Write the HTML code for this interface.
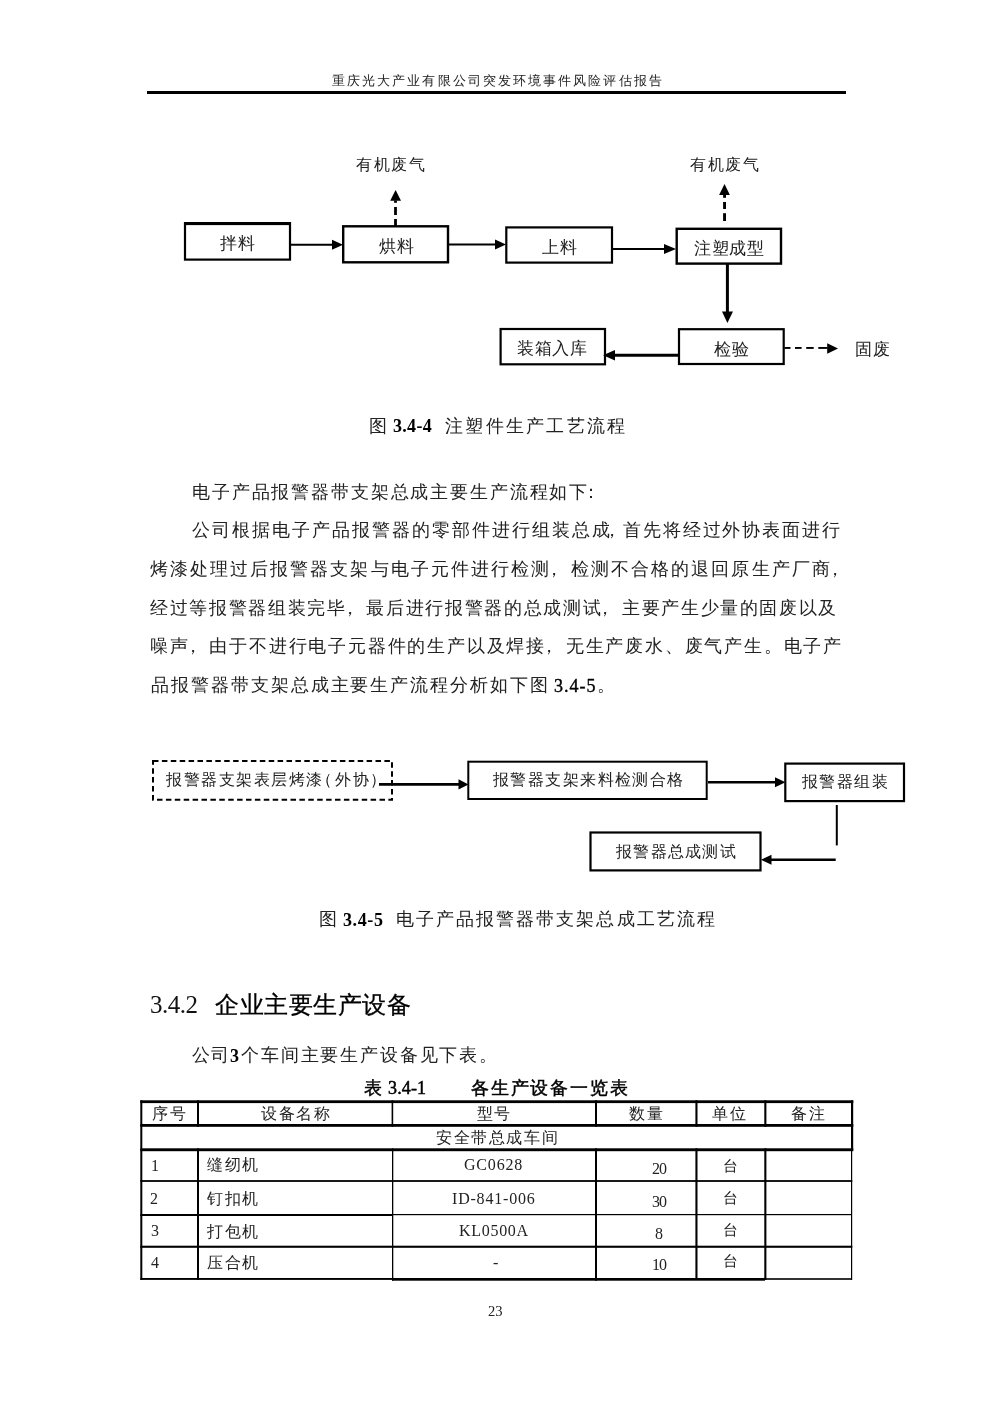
<!DOCTYPE html>
<html><head><meta charset="utf-8">
<style>
html,body{margin:0;padding:0;background:#fff;}
body{width:992px;height:1403px;position:relative;overflow:hidden;font-family:"Liberation Serif",serif;color:#222;}
.t{position:absolute;white-space:nowrap;line-height:1;will-change:transform;}
.b{font-weight:bold;color:#000;}
.pc{position:relative;left:-6px;}
svg{position:absolute;left:0;top:0;}
</style></head><body>
<svg width="992" height="1403" viewBox="0 0 992 1403">
<!-- header rule -->
<rect x="147" y="91" width="699" height="3" fill="#000"/>
<!-- flowchart 1 boxes -->
<g fill="none" stroke="#000">
<rect x="185" y="223.2" width="105" height="36.4" stroke-width="2.2"/>
<rect x="184" y="222.1" width="107" height="3" fill="#000" stroke="none"/>
<rect x="343.2" y="226.3" width="104.8" height="36" stroke-width="2.4"/>
<rect x="506.3" y="227.4" width="105.7" height="35.2" stroke-width="2.2"/>
<rect x="676.7" y="228.8" width="104.3" height="34.8" stroke-width="2.4"/>
<rect x="500.6" y="329" width="104.4" height="35.3" stroke-width="2.2"/>
<rect x="679" y="329.2" width="104.7" height="34.8" stroke-width="2.2"/>
</g>
<g stroke="#000" fill="none">
<line x1="290" y1="244.8" x2="334" y2="244.8" stroke-width="2"/>
<line x1="449" y1="244.6" x2="497" y2="244.6" stroke-width="2"/>
<line x1="613" y1="249" x2="666" y2="249" stroke-width="2"/>
<line x1="727.4" y1="264" x2="727.4" y2="313" stroke-width="3"/>
<line x1="678" y1="355.2" x2="613" y2="355.2" stroke-width="3"/>
</g>
<g fill="#000">
<polygon points="332,239.8 343,244.8 332,249.8"/>
<polygon points="495,239.6 506,244.6 495,249.6"/>
<polygon points="664,244 676,249 664,254"/>
<polygon points="722,311.5 733,311.5 727.4,323"/>
<polygon points="615,350 603,355.2 615,360.5"/>
<polygon points="390.2,200.7 401,200.7 395.6,190"/>
<rect x="394.1" y="200.5" width="2.8" height="2.3"/><rect x="394.1" y="207" width="2.8" height="8"/><rect x="394.1" y="219" width="2.8" height="7"/>
<polygon points="719.1,194.9 729.9,194.9 724.5,183.9"/>
<rect x="723.1" y="194.5" width="2.9" height="3.3"/><rect x="723.1" y="202" width="2.9" height="7"/><rect x="723.1" y="213.2" width="2.9" height="7.8"/>
<polygon points="827.2,343.2 838,348.4 827.2,353.8"/>
<rect x="784.5" y="347" width="6" height="1.9"/><rect x="795" y="347" width="6.6" height="1.9"/><rect x="806.2" y="347" width="7.5" height="1.9"/><rect x="818.3" y="347" width="7.6" height="1.9"/><rect x="825.5" y="347" width="2" height="1.9"/>
</g>
<!-- flowchart 2 -->
<rect x="153" y="761" width="239" height="38.8" fill="none" stroke="#000" stroke-width="2" stroke-dasharray="5.5,3.4"/>
<g fill="none" stroke="#000">
<rect x="468.3" y="761.7" width="238.4" height="37.3" stroke-width="2"/>
<rect x="785.3" y="763.6" width="118.7" height="37.5" stroke-width="2.2"/>
<rect x="590.5" y="832.5" width="170" height="37.9" stroke-width="2.2"/>
<line x1="379" y1="784.4" x2="460" y2="784.4" stroke-width="2.6"/>
<line x1="708" y1="782.2" x2="776" y2="782.2" stroke-width="2.4"/>
<line x1="836.8" y1="805" x2="836.8" y2="845.4" stroke-width="2"/>
<line x1="835.7" y1="859.8" x2="770" y2="859.8" stroke-width="2.4"/>
</g>
<g fill="#000">
<polygon points="458.5,779.2 468.5,784.4 458.5,789.6"/>
<polygon points="775,777.2 785.5,782.2 775,787.2"/>
<polygon points="771.5,854.8 761,859.8 771.5,864.8"/>
</g>
<!-- table -->
<g fill="#000">
<rect x="140.3" y="1100.3" width="713" height="2.8"/>
<rect x="140.3" y="1124" width="713" height="2.8"/>
<rect x="140.3" y="1148.3" width="713" height="2.9"/>
<rect x="140.3" y="1180.1" width="712" height="1.8"/>
<rect x="140.3" y="1214" width="252" height="2"/>
<rect x="392" y="1214" width="460" height="1.2"/>
<rect x="140.3" y="1245.7" width="712" height="2.1"/>
<rect x="140.3" y="1278" width="252" height="1.9"/>
<rect x="392" y="1278" width="373" height="2.7"/>
<rect x="765" y="1278.2" width="87" height="1.6"/>
<rect x="140.3" y="1100.3" width="2" height="179.6"/>
<rect x="851" y="1100.3" width="2.2" height="50.5"/>
<rect x="851" y="1150" width="1.2" height="130"/>
<rect x="197" y="1100.3" width="2" height="26.5"/>
<rect x="197" y="1148.3" width="2" height="131.6"/>
<rect x="391.6" y="1100.3" width="1.6" height="26.5"/>
<rect x="392" y="1148.3" width="1.3" height="132.4"/>
<rect x="595" y="1100.3" width="2" height="26.5"/>
<rect x="595" y="1148.3" width="2" height="132.4"/>
<rect x="695.4" y="1100.3" width="2.1" height="26.5"/>
<rect x="695.4" y="1148.3" width="2.1" height="131.6"/>
<rect x="764.3" y="1100.3" width="2.1" height="26.5"/>
<rect x="764.3" y="1148.3" width="2.1" height="131.6"/>
</g>
</svg>

<!-- header -->
<div class="t" style="left:332px;top:74px;font-size:13px;letter-spacing:2.08px;">重庆光大产业有限公司突发环境事件风险评估报告</div>

<!-- flowchart 1 text -->
<div class="t" style="left:355.5px;top:157px;font-size:16px;letter-spacing:1.7px;">有机废气</div>
<div class="t" style="left:690px;top:157px;font-size:16px;letter-spacing:1.7px;">有机废气</div>
<div class="t" style="left:220px;top:234.5px;font-size:17px;letter-spacing:0.7px;">拌料</div>
<div class="t" style="left:378.5px;top:237.5px;font-size:17px;letter-spacing:0.7px;">烘料</div>
<div class="t" style="left:542px;top:238.7px;font-size:17px;letter-spacing:0.7px;">上料</div>
<div class="t" style="left:693.5px;top:240.3px;font-size:17px;letter-spacing:0.5px;">注塑成型</div>
<div class="t" style="left:517px;top:340.3px;font-size:17px;letter-spacing:0.5px;">装箱入库</div>
<div class="t" style="left:714px;top:340.8px;font-size:17px;letter-spacing:0.7px;">检验</div>
<div class="t" style="left:855px;top:340.8px;font-size:17px;letter-spacing:0.7px;">固废</div>

<!-- caption 1 -->
<div class="t" style="left:369.2px;top:416.5px;font-size:18px;">图</div>
<div class="t b" style="left:393.3px;top:417.1px;font-size:18px;letter-spacing:0.3px;">3.4-4</div>
<div class="t" style="left:444.6px;top:416.8px;font-size:18px;letter-spacing:2.3px;">注塑件生产工艺流程</div>

<!-- paragraph -->
<div class="t" style="left:192.1px;top:482.5px;font-size:18px;letter-spacing:1.86px;">电子产品报警器带支架总成主要生产流程如下<span class="pc" style="left:-7px">：</span></div>
<div class="t" style="left:192.1px;top:521.4px;font-size:18px;letter-spacing:2px;">公司根据电子产品报警器的零部件进行组装总成</div>
<div class="t" style="left:602.6px;top:521.4px;font-size:18px;">，</div>
<div class="t" style="left:623px;top:521.4px;font-size:18px;letter-spacing:1.9px;">首先将经过外协表面进行</div>
<div class="t" style="left:150.3px;top:560.3px;font-size:18px;letter-spacing:2.05px;">烤漆处理过后报警器支架与电子元件进行检测<span class="pc">，</span>检测不合格的退回原生产厂商<span class="pc">，</span></div>
<div class="t" style="left:150px;top:598.6px;font-size:18px;letter-spacing:1.66px;">经过等报警器组装完毕<span class="pc">，</span>最后进行报警器的总成测试<span class="pc">，</span>主要产生少量的固废以及</div>
<div class="t" style="left:150px;top:637.2px;font-size:18px;letter-spacing:1.8px;">噪声<span class="pc">，</span>由于不进行电子元器件的生产以及焊接<span class="pc">，</span>无生产废水、废气产生。电子产</div>
<div class="t" style="left:151.3px;top:676.2px;font-size:18px;letter-spacing:1.95px;">品报警器带支架总成主要生产流程分析如下图</div>
<div class="t" style="left:553.8px;top:677.1px;font-size:18px;letter-spacing:1px;color:#000;-webkit-text-stroke:0.4px #000;">3.4-5</div>
<div class="t" style="left:597.2px;top:676.2px;font-size:18px;">。</div>

<!-- flowchart 2 text -->
<div class="t" style="left:166px;top:772.3px;font-size:16px;letter-spacing:1.5px;">报警器支架表层烤漆</div>
<div class="t" style="left:315.8px;top:772.3px;font-size:16px;">（</div>
<div class="t" style="left:335.3px;top:772.3px;font-size:16px;letter-spacing:2px;">外协</div>
<div class="t" style="left:370.2px;top:772.3px;font-size:16px;">）</div>
<div class="t" style="left:492.6px;top:772.2px;font-size:16px;letter-spacing:1.43px;">报警器支架来料检测合格</div>
<div class="t" style="left:802.3px;top:774.1px;font-size:16px;letter-spacing:1.4px;">报警器组装</div>
<div class="t" style="left:616.1px;top:843.5px;font-size:16px;letter-spacing:1.3px;">报警器总成测试</div>

<!-- caption 2 -->
<div class="t" style="left:318.5px;top:910px;font-size:18px;">图</div>
<div class="t b" style="left:343.3px;top:911.1px;font-size:18px;letter-spacing:0.6px;">3.4-5</div>
<div class="t" style="left:395.8px;top:910.2px;font-size:18px;letter-spacing:2.05px;">电子产品报警器带支架总成工艺流程</div>

<!-- heading -->
<div class="t" style="left:150px;top:992.3px;font-size:25px;letter-spacing:-0.5px;color:#111;">3.4.2</div>
<div class="t" style="left:214.8px;top:992.6px;font-size:24px;letter-spacing:0.55px;font-family:'Liberation Sans',sans-serif;-webkit-text-stroke:0.3px #000;color:#000;">企业主要生产设备</div>

<div class="t" style="left:192.1px;top:1046px;font-size:18px;letter-spacing:1.3px;">公司</div>
<div class="t b" style="left:229.6px;top:1046.6px;font-size:18px;">3</div>
<div class="t" style="left:241.3px;top:1046px;font-size:18px;letter-spacing:1.85px;">个车间主要生产设备见下表。</div>

<div class="t" style="left:363.6px;top:1079px;font-size:18px;-webkit-text-stroke:0.45px #000;color:#000;">表</div>
<div class="t" style="left:388px;top:1079px;font-size:18px;letter-spacing:0.15px;-webkit-text-stroke:0.5px #000;color:#000;">3.4-1</div>
<div class="t" style="left:470.5px;top:1078.6px;font-size:18px;letter-spacing:1.8px;-webkit-text-stroke:0.45px #000;color:#000;">各生产设备一览表</div>

<!-- table text -->
<div class="t" style="left:151.5px;top:1105.5px;font-size:16px;letter-spacing:2.2px;">序号</div>
<div class="t" style="left:260.7px;top:1105.5px;font-size:16px;letter-spacing:1.5px;">设备名称</div>
<div class="t" style="left:477.3px;top:1105.8px;font-size:16px;letter-spacing:1px;">型号</div>
<div class="t" style="left:628.7px;top:1105.8px;font-size:16px;letter-spacing:2.2px;">数量</div>
<div class="t" style="left:712.3px;top:1105.8px;font-size:16px;letter-spacing:2.2px;">单位</div>
<div class="t" style="left:790.6px;top:1105.8px;font-size:16px;letter-spacing:2.2px;">备注</div>
<div class="t" style="left:435.5px;top:1130px;font-size:16px;letter-spacing:1.6px;">安全带总成车间</div>
<div class="t" style="left:151px;top:1158px;font-size:16px;">1</div>
<div class="t" style="left:150px;top:1191px;font-size:16px;">2</div>
<div class="t" style="left:150.5px;top:1223.2px;font-size:16px;">3</div>
<div class="t" style="left:150.5px;top:1255px;font-size:16px;">4</div>
<div class="t" style="left:207.2px;top:1157.4px;font-size:16px;letter-spacing:1.5px;">缝纫机</div>
<div class="t" style="left:207.2px;top:1190.6px;font-size:16px;letter-spacing:1.5px;">钉扣机</div>
<div class="t" style="left:207.2px;top:1223.6px;font-size:16px;letter-spacing:1.5px;">打包机</div>
<div class="t" style="left:207.2px;top:1254.6px;font-size:16px;letter-spacing:1.5px;">压合机</div>
<div class="t" style="left:464px;top:1156.5px;font-size:16px;letter-spacing:0.8px;">GC0628</div>
<div class="t" style="left:451.5px;top:1190.7px;font-size:16px;letter-spacing:0.8px;">ID-841-006</div>
<div class="t" style="left:458.5px;top:1222.5px;font-size:16px;letter-spacing:0.7px;">KL0500A</div>
<div class="t" style="left:492.5px;top:1254.5px;font-size:16px;">-</div>
<div class="t" style="left:651.5px;top:1160.7px;font-size:16px;letter-spacing:-1px;">20</div>
<div class="t" style="left:651.5px;top:1193.7px;font-size:16px;letter-spacing:-1px;">30</div>
<div class="t" style="left:654.5px;top:1226.4px;font-size:16px;">8</div>
<div class="t" style="left:651.5px;top:1256.5px;font-size:16px;letter-spacing:-1px;">10</div>
<div class="t" style="left:722.5px;top:1159.4px;font-size:15px;">台</div>
<div class="t" style="left:722.5px;top:1190.6px;font-size:15px;">台</div>
<div class="t" style="left:722.5px;top:1222.6px;font-size:15px;">台</div>
<div class="t" style="left:722.5px;top:1254px;font-size:15px;">台</div>


<div class="t" style="left:488.3px;top:1303.6px;font-size:14.6px;">23</div>
</body></html>
